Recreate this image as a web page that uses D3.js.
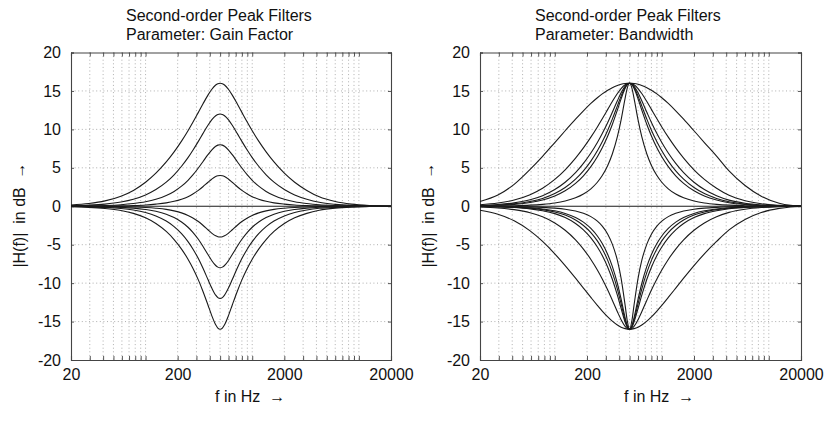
<!DOCTYPE html>
<html><head><meta charset="utf-8">
<script src="https://cdn.jsdelivr.net/npm/d3@7"></script>
<style>
body{margin:0;background:#fff}
svg{display:block}
text{font-family:"Liberation Sans",Arial,Helvetica,sans-serif;fill:#111}
</style>
</head><body>
<svg id="chart" width="840" height="423"></svg>
<script>
// ---- data (frequency in Hz, magnitude in dB) ----
const freqs = [20, 29.4, 41.7, 58.8, 76.9, 100, 125, 156.3, 185.2, 217.4, 250, 277.8, 312.5, 344.8, 384.6, 416.7, 454.5, 476.2, 500,
  525, 550, 600, 650, 725, 800, 900, 1000, 1150, 1350, 1600, 2000, 2500, 3250, 4250, 6000, 8500, 12500, 16000, 20000];

const flatFreqs = [20, 20000];
const flat0dB = [0, 0];

// Left panel: parameter gain factor (+16, +12, +8, +4, -4, -8, -12, -16 dB)
const gainP16 = [0.17, 0.36, 0.70, 1.31, 2.06, 3.12, 4.30, 5.76, 7.07, 8.47, 9.82, 10.92, 12.21, 13.30, 14.46, 15.19, 15.77, 15.94, 16.00, 15.94, 15.77, 15.19, 14.46, 13.30, 12.21, 10.92, 9.82, 8.47, 7.07, 5.76, 4.30, 3.12, 2.06, 1.23, 0.62, 0.28, 0.09, 0.02, 0.00];
const gainP12 = [0.07, 0.14, 0.28, 0.55, 0.91, 1.47, 2.17, 3.13, 4.09, 5.20, 6.32, 7.28, 8.44, 9.45, 10.53, 11.23, 11.78, 11.94, 12.00, 11.94, 11.78, 11.23, 10.53, 9.45, 8.44, 7.28, 6.32, 5.20, 4.09, 3.13, 2.17, 1.47, 0.91, 0.51, 0.25, 0.11, 0.04, 0.01, 0.00];
const gainP8 = [0.02, 0.05, 0.10, 0.20, 0.35, 0.58, 0.90, 1.39, 1.93, 2.61, 3.38, 4.07, 4.97, 5.79, 6.71, 7.31, 7.80, 7.95, 8.00, 7.95, 7.80, 7.31, 6.71, 5.79, 4.97, 4.07, 3.38, 2.61, 1.93, 1.39, 0.90, 0.58, 0.35, 0.19, 0.09, 0.04, 0.01, 0.00, 0.00];
const gainP4 = [0.01, 0.01, 0.03, 0.06, 0.10, 0.17, 0.28, 0.44, 0.64, 0.92, 1.25, 1.59, 2.06, 2.54, 3.12, 3.52, 3.86, 3.96, 4.00, 3.96, 3.86, 3.52, 3.12, 2.54, 2.06, 1.59, 1.25, 0.92, 0.64, 0.44, 0.28, 0.17, 0.10, 0.06, 0.03, 0.01, 0, 0, 0];
const gainM4 = [-0.01, -0.01, -0.03, -0.05, -0.09, -0.16, -0.26, -0.41, -0.60, -0.86, -1.19, -1.52, -1.99, -2.47, -3.06, -3.49, -3.85, -3.96, -4.00, -3.96, -3.85, -3.49, -3.06, -2.47, -1.99, -1.52, -1.19, -0.86, -0.60, -0.41, -0.26, -0.16, -0.09, -0.05, -0.03, -0.01, 0, 0, 0];
const gainM8 = [-0.02, -0.04, -0.07, -0.14, -0.24, -0.42, -0.65, -1.03, -1.47, -2.05, -2.73, -3.39, -4.30, -5.20, -6.28, -7.05, -7.71, -7.92, -8.00, -7.92, -7.71, -7.05, -6.28, -5.20, -4.30, -3.39, -2.73, -2.05, -1.47, -1.03, -0.65, -0.42, -0.24, -0.13, -0.07, -0.03, -0.01, 0, 0];
const gainM12 = [-0.04, -0.08, -0.15, -0.29, -0.49, -0.82, -1.26, -1.93, -2.65, -3.57, -4.60, -5.55, -6.81, -8.04, -9.53, -10.61, -11.57, -11.88, -12.00, -11.88, -11.57, -10.61, -9.53, -8.04, -6.81, -5.55, -4.60, -3.57, -2.65, -1.93, -1.26, -0.82, -0.49, -0.27, -0.14, -0.06, -0.02, 0, 0];
const gainM16 = [-0.07, -0.14, -0.29, -0.56, -0.93, -1.51, -2.25, -3.28, -4.33, -5.57, -6.89, -8.06, -9.58, -11.05, -12.84, -14.19, -15.42, -15.84, -16.00, -15.84, -15.42, -14.19, -12.84, -11.05, -9.58, -8.06, -6.89, -5.57, -4.33, -3.28, -2.25, -1.51, -0.93, -0.53, -0.25, -0.11, -0.04, -0.01, 0];

// Right panel: parameter bandwidth (boost +16 dB and cut -16 dB)
const bwBoost1 = [0.62, 1.45, 2.85, 4.80, 6.50, 8.29, 9.82, 11.33, 12.42, 13.38, 14.12, 14.62, 15.10, 15.43, 15.71, 15.86, 15.96, 15.99, 16.00, 15.99, 15.96, 15.86, 15.71, 15.43, 15.10, 14.62, 14.12, 13.38, 12.42, 11.33, 9.82, 8.29, 6.53, 4.60, 2.70, 1.30, 0.40, 0.12, 0.01];
const bwBoost2 = [0.20, 0.42, 0.81, 1.50, 2.34, 3.49, 4.74, 6.26, 7.59, 8.99, 10.32, 11.38, 12.60, 13.62, 14.66, 15.31, 15.80, 15.95, 16.00, 15.95, 15.80, 15.31, 14.66, 13.62, 12.60, 11.38, 10.32, 8.99, 7.59, 6.26, 4.74, 3.49, 2.34, 1.42, 0.72, 0.32, 0.11, 0.03, 0.00];
const bwBoost3 = [0.10, 0.22, 0.44, 0.84, 1.37, 2.17, 3.12, 4.37, 5.57, 6.92, 8.29, 9.46, 10.90, 12.22, 13.72, 14.75, 15.62, 15.90, 16.00, 15.90, 15.62, 14.75, 13.72, 12.22, 10.90, 9.46, 8.29, 6.92, 5.57, 4.37, 3.12, 2.17, 1.37, 0.80, 0.39, 0.17, 0.05, 0.02, 0.00];
const bwBoost4 = [0.07, 0.16, 0.32, 0.62, 1.02, 1.65, 2.43, 3.52, 4.60, 5.87, 7.21, 8.38, 9.89, 11.33, 13.06, 14.33, 15.48, 15.86, 16.00, 15.86, 15.48, 14.33, 13.06, 11.33, 9.89, 8.38, 7.21, 5.87, 4.60, 3.52, 2.43, 1.65, 1.02, 0.58, 0.28, 0.12, 0.04, 0.01, 0];
const bwBoost5 = [0.06, 0.13, 0.25, 0.49, 0.82, 1.34, 2.01, 2.97, 3.96, 5.15, 6.44, 7.60, 9.14, 10.64, 12.52, 13.97, 15.34, 15.82, 16.00, 15.82, 15.34, 13.97, 12.52, 10.64, 9.14, 7.60, 6.44, 5.15, 3.96, 2.97, 2.01, 1.34, 0.82, 0.46, 0.22, 0.10, 0.03, 0.01, 0];
const bwBoost6 = [0.02, 0.04, 0.07, 0.14, 0.25, 0.43, 0.69, 1.10, 1.59, 2.27, 3.12, 3.99, 5.31, 6.80, 9.05, 11.24, 14.07, 15.40, 16.00, 15.40, 14.07, 11.24, 9.05, 6.80, 5.31, 3.99, 3.12, 2.27, 1.59, 1.10, 0.69, 0.43, 0.25, 0.14, 0.07, 0.03, 0.01, 0, 0];
const bwCut1 = [-0.52, -1.05, -1.90, -3.21, -4.58, -6.19, -7.72, -9.36, -10.65, -11.86, -12.89, -13.63, -14.39, -14.95, -15.45, -15.73, -15.92, -15.98, -16.00, -15.98, -15.92, -15.73, -15.45, -14.95, -14.39, -13.63, -12.89, -11.86, -10.65, -9.36, -7.72, -6.19, -4.58, -3.07, -1.72, -0.82, -0.28, -0.09, -0.01];
const bwCut2 = [-0.10, -0.22, -0.44, -0.84, -1.37, -2.17, -3.12, -4.37, -5.57, -6.92, -8.29, -9.46, -10.90, -12.22, -13.72, -14.75, -15.62, -15.90, -16.00, -15.90, -15.62, -14.75, -13.72, -12.22, -10.90, -9.46, -8.29, -6.92, -5.57, -4.37, -3.12, -2.17, -1.37, -0.80, -0.39, -0.17, -0.05, -0.02, 0];
const bwCut3 = [-0.04, -0.09, -0.17, -0.34, -0.58, -0.96, -1.47, -2.24, -3.07, -4.12, -5.31, -6.42, -7.94, -9.50, -11.57, -13.29, -15.07, -15.74, -16.00, -15.74, -15.07, -13.29, -11.57, -9.50, -7.94, -6.42, -5.31, -4.12, -3.07, -2.24, -1.47, -0.96, -0.58, -0.32, -0.16, -0.07, -0.02, -0.01, 0];
const bwCut4 = [-0.03, -0.06, -0.13, -0.25, -0.44, -0.74, -1.15, -1.79, -2.50, -3.43, -4.51, -5.56, -7.04, -8.61, -10.78, -12.68, -14.80, -15.65, -16.00, -15.65, -14.80, -12.68, -10.78, -8.61, -7.04, -5.56, -4.51, -3.43, -2.50, -1.79, -1.15, -0.74, -0.44, -0.24, -0.12, -0.05, -0.02, 0, 0];
const bwCut5 = [-0.02, -0.05, -0.10, -0.20, -0.35, -0.59, -0.93, -1.46, -2.06, -2.88, -3.87, -4.85, -6.27, -7.82, -10.05, -12.09, -14.52, -15.56, -16.00, -15.56, -14.52, -12.09, -10.05, -7.82, -6.27, -4.85, -3.87, -2.88, -2.06, -1.46, -0.93, -0.59, -0.35, -0.19, -0.09, -0.04, -0.01, 0, 0];
const bwCut6 = [-0.01, -0.02, -0.04, -0.08, -0.14, -0.24, -0.38, -0.62, -0.92, -1.35, -1.94, -2.58, -3.63, -4.92, -7.05, -9.37, -12.89, -14.93, -16.00, -14.93, -12.89, -9.37, -7.05, -4.92, -3.63, -2.58, -1.94, -1.35, -0.92, -0.62, -0.38, -0.24, -0.14, -0.07, -0.04, -0.01, 0, 0, 0];

// axes
const yTickValues = [-20, -15, -10, -5, 0, 5, 10, 15, 20];
const yGridValues = [-15, -10, -5, 5, 10, 15];
const xTickLabels = [20, 200, 2000, 20000];
const xMinorTicks = [30, 40, 50, 60, 70, 80, 90, 100, 300, 400, 500, 600, 700, 800, 900, 1000,
  3000, 4000, 5000, 6000, 7000, 8000, 9000, 10000];

const titleLine1 = "Second-order Peak Filters";
const panelDefs = [
  { left: 71, right: 391, subtitle: "Parameter: Gain Factor",
    curves: [gainP16, gainP12, gainP8, gainP4, gainM4, gainM8, gainM12, gainM16] },
  { left: 480, right: 801, subtitle: "Parameter: Bandwidth",
    curves: [bwBoost1, bwBoost2, bwBoost3, bwBoost4, bwBoost5, bwBoost6, bwCut1, bwCut2, bwCut3, bwCut4, bwCut5, bwCut6] }
];

const plotTop = 52.5, plotBottom = 360;
const svg = d3.select("#chart");

panelDefs.forEach(p => {
  const x = d3.scaleLog().domain([20, 20000]).range([p.left, p.right]);
  const y = d3.scaleLinear().domain([-20, 20]).range([plotBottom, plotTop]);
  const g = svg.append("g");

  // dotted grid
  const grid = g.append("g").attr("stroke", "#9a9a9a").attr("stroke-width", 0.8)
    .attr("stroke-dasharray", "1,2.6").attr("fill", "none");
  xMinorTicks.concat([200, 2000]).forEach(f => {
    grid.append("line").attr("x1", x(f)).attr("x2", x(f)).attr("y1", plotTop).attr("y2", plotBottom);
  });
  yGridValues.forEach(v => {
    grid.append("line").attr("x1", p.left).attr("x2", p.right).attr("y1", y(v)).attr("y2", y(v));
  });

  // axes via d3
  const allXTicks = xTickLabels.concat(xMinorTicks).sort((a, b) => a - b);
  const xAxisB = d3.axisBottom(x).tickValues(allXTicks).tickSize(-4).tickPadding(9)
    .tickFormat(d => xTickLabels.includes(d) ? d : "");
  const xAxisT = d3.axisTop(x).tickValues(allXTicks).tickSize(-4).tickFormat("");
  const yAxisL = d3.axisLeft(y).tickValues(yTickValues).tickSize(-3).tickPadding(10).tickFormat(d => d);
  const yAxisR = d3.axisRight(y).tickValues(yTickValues).tickSize(-3).tickFormat("");

  const gb = g.append("g").attr("transform", `translate(0,${plotBottom})`).call(xAxisB);
  const gt = g.append("g").attr("transform", `translate(0,${plotTop})`).call(xAxisT);
  const gl = g.append("g").attr("transform", `translate(${p.left},0)`).call(yAxisL);
  const gr = g.append("g").attr("transform", `translate(${p.right},0)`).call(yAxisR);
  [gb, gt, gl, gr].forEach(a => {
    a.select(".domain").attr("stroke", "#444").attr("stroke-width", 1.1);
    a.selectAll(".tick line").attr("stroke", "#444").attr("stroke-width", 0.9);
    a.selectAll("text").attr("font-size", 16).attr("fill", "#111")
      .attr("font-family", "'Liberation Sans', Arial, sans-serif");
  });

  // curves
  const line = d3.line().x((d) => x(d[0])).y(d => y(d[1])).curve(d3.curveMonotoneX);
  const cg = g.append("g").attr("fill", "none").attr("stroke", "#1a1a1a").attr("stroke-width", 1.1);
  cg.append("path").attr("d", line(flatFreqs.map((f, i) => [f, flat0dB[i]])));
  p.curves.forEach(vals => {
    cg.append("path").attr("d", line(freqs.map((f, i) => [f, vals[i]])));
  });

  // titles
  g.append("text").attr("x", p.left + 55).attr("y", 21).attr("font-size", 16).text(titleLine1);
  g.append("text").attr("x", p.left + 55).attr("y", 40).attr("font-size", 16).text(p.subtitle);

  // axis labels
  g.append("text").attr("x", p.left + 144).attr("y", 402).attr("font-size", 16)
    .attr("xml:space", "preserve").text("f in Hz  \u2192");
  g.append("text").attr("transform", `translate(${p.left - 46},215) rotate(-90)`)
    .attr("text-anchor", "middle").attr("font-size", 16).attr("xml:space", "preserve")
    .text("|H(f)|  in dB  \u2192");
});
</script>
</body></html>
